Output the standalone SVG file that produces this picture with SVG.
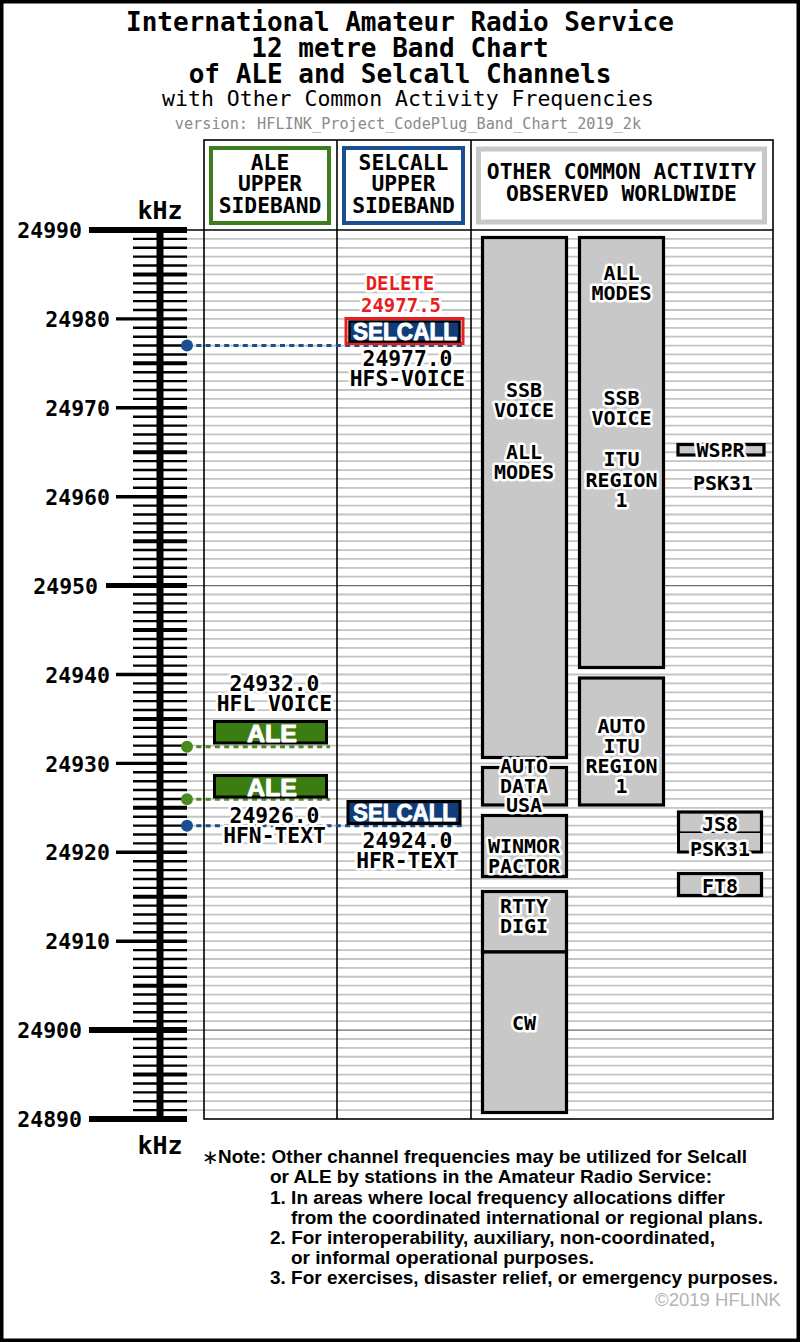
<svg xmlns="http://www.w3.org/2000/svg" width="800" height="1342" viewBox="0 0 800 1342">
<style>
.mono{font-family:"DejaVu Sans Mono","Liberation Mono",monospace;font-weight:bold}
.mid{text-anchor:middle}
.halo{stroke:#fff;stroke-width:5;stroke-linejoin:round;paint-order:stroke}
.blk{fill:#c8c8c8;stroke:#000;stroke-width:3.2}
.bt{font-size:20px}
.lab{font-size:21.3px}
.sc{font-size:21.5px;text-anchor:end}
.chip{font-family:"Liberation Sans",Arial,sans-serif;font-weight:bold;font-size:23px;fill:#fff;stroke:#fff;stroke-width:0.9;stroke-linejoin:round;text-anchor:middle}
.note{font-family:"Liberation Sans Narrow","Liberation Sans",Arial,sans-serif;font-weight:bold;font-size:18px}
.hdr{font-size:21.3px;text-anchor:middle}
</style>
<rect x="0" y="0" width="800" height="1342" fill="#fff"/>
<rect x="1.75" y="1.75" width="796.5" height="1338.5" fill="none" stroke="#000" stroke-width="3.5"/>

<g id="title">
<text class="mid" font-family="DejaVu Sans Mono,Liberation Mono,monospace"><tspan x="400" y="31" font-size="26" font-weight="bold">International Amateur Radio Service</tspan><tspan x="400" y="57" font-size="26" font-weight="bold">12 metre Band Chart</tspan><tspan x="400" y="83" font-size="26" font-weight="bold">of ALE and Selcall Channels</tspan><tspan x="408" y="106" font-size="21.5">with Other Common Activity Frequencies</tspan></text>
<text class="mid" x="408" y="129" font-size="15.2" fill="#8a8a8a" font-family="DejaVu Sans Mono,Liberation Mono,monospace">version: HFLINK_Project_CodePlug_Band_Chart_2019_2k</text>
</g>

<g id="grid">
<path fill="none" stroke="#c4c4c4" stroke-width="1.8" d="M187 238.89H773M187 247.78H773M187 256.67H773M187 265.56H773M187 274.45H773M187 283.34H773M187 292.23H773M187 301.12H773M187 310.01H773M187 318.9H773M187 327.79H773M187 336.68H773M187 345.57H773M187 354.46H773M187 363.35H773M187 372.24H773M187 381.13H773M187 390.02H773M187 398.91H773M187 407.8H773M187 416.69H773M187 425.58H773M187 434.47H773M187 443.36H773M187 452.25H773M187 461.14H773M187 470.03H773M187 478.92H773M187 487.81H773M187 496.7H773M187 505.59H773M187 514.48H773M187 523.37H773M187 532.26H773M187 541.15H773M187 550.04H773M187 558.93H773M187 567.82H773M187 576.71H773M187 594.49H773M187 603.38H773M187 612.27H773M187 621.16H773M187 630.05H773M187 638.94H773M187 647.83H773M187 656.72H773M187 665.61H773M187 674.5H773M187 683.39H773M187 692.28H773M187 701.17H773M187 710.06H773M187 718.95H773M187 727.84H773M187 736.73H773M187 745.62H773M187 754.51H773M187 763.4H773M187 772.29H773M187 781.18H773M187 790.07H773M187 798.96H773M187 807.85H773M187 816.74H773M187 825.63H773M187 834.52H773M187 843.41H773M187 852.3H773M187 861.19H773M187 870.08H773M187 878.97H773M187 887.86H773M187 896.75H773M187 905.64H773M187 914.53H773M187 923.42H773M187 932.31H773M187 941.2H773M187 950.09H773M187 958.98H773M187 967.87H773M187 976.76H773M187 985.65H773M187 994.54H773M187 1003.43H773M187 1012.32H773M187 1021.21H773M187 1038.99H773M187 1047.88H773M187 1056.77H773M187 1065.66H773M187 1074.55H773M187 1083.44H773M187 1092.33H773M187 1101.22H773M187 1110.11H773"/>
<path fill="none" stroke="#6e6e6e" stroke-width="1.2" d="M187 585.6H773M187 1030.1H773"/>
</g>

<g id="table" fill="none" stroke="#000">
<rect x="204" y="140" width="569" height="979" stroke-width="1.6"/>
<path d="M337 140V1119M471 140V1119" stroke-width="1.6"/>
<path d="M187 230H773" stroke-width="1.6"/>
</g>

<g id="scale">
<path fill="none" stroke="#000" stroke-width="7" d="M160 230V1119"/>
<path fill="none" stroke="#000" stroke-width="2.4" d="M133 238.89H187M133 247.78H187M133 256.67H187M133 265.56H187M133 283.34H187M133 292.23H187M133 301.12H187M133 310.01H187M133 327.79H187M133 336.68H187M133 345.57H187M133 354.46H187M133 372.24H187M133 381.13H187M133 390.02H187M133 398.91H187M133 416.69H187M133 425.58H187M133 434.47H187M133 443.36H187M133 461.14H187M133 470.03H187M133 478.92H187M133 487.81H187M133 505.59H187M133 514.48H187M133 523.37H187M133 532.26H187M133 550.04H187M133 558.93H187M133 567.82H187M133 576.71H187M133 594.49H187M133 603.38H187M133 612.27H187M133 621.16H187M133 638.94H187M133 647.83H187M133 656.72H187M133 665.61H187M133 683.39H187M133 692.28H187M133 701.17H187M133 710.06H187M133 727.84H187M133 736.73H187M133 745.62H187M133 754.51H187M133 772.29H187M133 781.18H187M133 790.07H187M133 798.96H187M133 816.74H187M133 825.63H187M133 834.52H187M133 843.41H187M133 861.19H187M133 870.08H187M133 878.97H187M133 887.86H187M133 905.64H187M133 914.53H187M133 923.42H187M133 932.31H187M133 950.09H187M133 958.98H187M133 967.87H187M133 976.76H187M133 994.54H187M133 1003.43H187M133 1012.32H187M133 1021.21H187M133 1038.99H187M133 1047.88H187M133 1056.77H187M133 1065.66H187M133 1083.44H187M133 1092.33H187M133 1101.22H187M133 1110.11H187"/>
<path fill="none" stroke="#000" stroke-width="4" d="M133 274.45H187M133 363.35H187M133 452.25H187M133 541.15H187M133 630.05H187M133 718.95H187M133 807.85H187M133 896.75H187M133 985.65H187M133 1074.55H187"/>
<path fill="none" stroke="#000" stroke-width="3.4" d="M116 318.9H187M116 407.8H187M116 496.7H187M116 674.5H187M116 763.4H187M116 852.3H187M116 941.2H187"/>
<path fill="none" stroke="#000" stroke-width="5" d="M106 585.6H187"/>
<path fill="none" stroke="#000" stroke-width="6" d="M89 230H187M89 1030.1H187M89 1119H187"/>
<g class="mono sc">
<text x="82" y="238">24990</text>
<text x="110" y="327">24980</text>
<text x="110" y="416">24970</text>
<text x="110" y="505">24960</text>
<text x="98" y="594">24950</text>
<text x="110" y="683">24940</text>
<text x="110" y="772">24930</text>
<text x="110" y="860">24920</text>
<text x="110" y="949">24910</text>
<text x="82" y="1038">24900</text>
<text x="82" y="1127">24890</text>
</g>
<text class="mono mid" x="160" y="219" font-size="25">kHz</text>
<text class="mono mid" x="160" y="1154" font-size="25">kHz</text>
</g>

<g id="hdr-ale">
<rect x="211" y="148" width="118" height="75" fill="#fff" stroke="#3e7d1d" stroke-width="4"/>
<text class="mono hdr"><tspan x="270" y="169.5">ALE</tspan><tspan x="270" y="191">UPPER</tspan><tspan x="270" y="212.5">SIDEBAND</tspan></text>
</g>
<g id="hdr-selcall">
<rect x="344" y="148" width="119" height="75" fill="#fff" stroke="#1b4f8f" stroke-width="4"/>
<text class="mono hdr"><tspan x="403.5" y="169.5">SELCALL</tspan><tspan x="403.5" y="191">UPPER</tspan><tspan x="403.5" y="212.5">SIDEBAND</tspan></text>
</g>
<g id="hdr-other">
<rect x="478.5" y="149" width="286" height="73" fill="#fff" stroke="#c8c8c8" stroke-width="5"/>
<text class="mono hdr"><tspan x="621.5" y="179">OTHER COMMON ACTIVITY</tspan><tspan x="621.5" y="201">OBSERVED WORLDWIDE</tspan></text>
</g>

<g id="blk-ssb-a">
<rect class="blk" x="482.5" y="237.5" width="84" height="520"/>
<text class="mono mid halo bt"><tspan x="524" y="397">SSB</tspan><tspan x="524" y="417">VOICE</tspan><tspan x="524" y="459">ALL</tspan><tspan x="524" y="479">MODES</tspan></text>
</g>
<g id="blk-autodata">
<rect class="blk" x="482.5" y="767.5" width="84" height="37.5"/>
</g>
<g id="blk-winmor">
<rect class="blk" x="482.5" y="815.5" width="84" height="61"/>
<text class="mono mid halo bt"><tspan x="524" y="853">WINMOR</tspan><tspan x="524" y="873">PACTOR</tspan></text>
</g>
<g id="blk-rtty">
<rect class="blk" x="482.5" y="891.5" width="84" height="60.5"/>
<text class="mono mid halo bt"><tspan x="524" y="913">RTTY</tspan><tspan x="524" y="933">DIGI</tspan></text>
</g>
<g id="blk-cw">
<rect class="blk" x="482.5" y="952" width="84" height="160.5"/>
<text class="mono mid halo bt" x="524" y="1030">CW</text>
</g>
<g id="blk-ssb-b">
<rect class="blk" x="579.5" y="237.5" width="84" height="430"/>
<text class="mono mid halo bt"><tspan x="621.5" y="280">ALL</tspan><tspan x="621.5" y="300">MODES</tspan><tspan x="621.5" y="405">SSB</tspan><tspan x="621.5" y="425">VOICE</tspan><tspan x="621.5" y="466">ITU</tspan><tspan x="621.5" y="487">REGION</tspan><tspan x="621.5" y="507">1</tspan></text>
</g>
<g id="blk-auto-itu">
<rect class="blk" x="579.5" y="678" width="84" height="127"/>
<text class="mono mid halo bt"><tspan x="621.5" y="733">AUTO</tspan><tspan x="621.5" y="753">ITU</tspan><tspan x="621.5" y="773">REGION</tspan><tspan x="621.5" y="793">1</tspan></text>
</g>
<g id="blk-wspr">
<rect class="blk" x="678" y="444.5" width="86" height="10.5" stroke-width="3.2"/>
<text class="mono mid halo bt" x="720.5" y="457">WSPR</text>
</g>
<g id="lbl-psk31-a">
<text class="mono mid halo bt" x="723" y="490">PSK31</text>
</g>
<g id="blk-js8">
<rect class="blk" x="678.5" y="812" width="83" height="21" stroke-width="3"/>
</g>
<g id="blk-psk31">
<path d="M678.5 833V852H761.5V833" fill="#c8c8c8" stroke="#000" stroke-width="3"/>
</g>
<g id="blk-ft8">
<rect class="blk" x="678.5" y="873.5" width="83" height="22" stroke-width="3"/>
</g>

<g id="connectors" fill="none" stroke-width="3" stroke-dasharray="5 4.3">
<path d="M187 345.6H463" stroke="#1a4f8f"/>
<path d="M187 746.7H330" stroke="#4a8a1e"/>
<path d="M187 799.3H330" stroke="#4a8a1e"/>
<path d="M187 825.7H463" stroke="#1a4f8f"/>
</g>
<g id="dots" stroke="none">
<circle cx="187" cy="345.6" r="6" fill="#1a4f8f"/>
<circle cx="187" cy="746.7" r="6" fill="#4a8a1e"/>
<circle cx="187" cy="799.3" r="6" fill="#4a8a1e"/>
<circle cx="187" cy="825.7" r="6" fill="#1a4f8f"/>
</g>

<g id="lbl-autodata">
<text class="mono mid halo bt"><tspan x="524" y="773">AUTO</tspan><tspan x="524" y="793">DATA</tspan><tspan x="524" y="811.5">USA</tspan></text>
</g>
<g id="lbl-js8-psk-ft8" class="mono mid halo bt">
<text x="720" y="830.5">JS8</text>
<text x="720" y="855.5">PSK31</text>
<text x="720" y="893">FT8</text>
</g>

<g id="ch-selcall-24977">
<rect x="346" y="318.5" width="117" height="25" fill="none" stroke="#e81d1d" stroke-width="3"/>
<rect x="349.5" y="321.5" width="110" height="20" fill="#0f3d7a" stroke="#000" stroke-width="2.5"/>
<text class="chip" x="405" y="339.5" textLength="104" lengthAdjust="spacingAndGlyphs">SELCALL</text>
<text class="mono mid halo" font-size="19" fill="#e81d1d"><tspan x="400" y="289.5">DELETE</tspan><tspan x="401" y="312">24977.5</tspan></text>
<text class="mono mid halo lab"><tspan x="407.5" y="366">24977.0</tspan><tspan x="407.5" y="386">HFS-VOICE</tspan></text>
</g>

<g id="ch-ale-24932">
<rect x="214.5" y="721.5" width="112" height="21.5" fill="#3c7d11" stroke="#000" stroke-width="3"/>
<text class="chip" x="272" y="741.5" textLength="50" lengthAdjust="spacingAndGlyphs">ALE</text>
<text class="mono mid halo lab"><tspan x="274.5" y="691">24932.0</tspan><tspan x="274.5" y="711">HFL VOICE</tspan></text>
</g>

<g id="ch-ale-24926">
<rect x="214.5" y="775.5" width="112" height="21.5" fill="#3c7d11" stroke="#000" stroke-width="3"/>
<text class="chip" x="272" y="795.5" textLength="50" lengthAdjust="spacingAndGlyphs">ALE</text>
<text class="mono mid halo lab"><tspan x="274.5" y="823">24926.0</tspan><tspan x="274.5" y="843">HFN-TEXT</tspan></text>
</g>

<g id="ch-selcall-24924">
<rect x="348" y="801.5" width="112" height="22" fill="#0f3d7a" stroke="#000" stroke-width="3"/>
<text class="chip" x="404.5" y="821" textLength="103" lengthAdjust="spacingAndGlyphs">SELCALL</text>
<text class="mono mid halo lab"><tspan x="407.5" y="848">24924.0</tspan><tspan x="407.5" y="868">HFR-TEXT</tspan></text>
</g>

<g id="note">
<text x="202" y="1164" font-family="DejaVu Sans,sans-serif" font-size="20">∗</text>
<text class="note" x="218" y="1162.5" textLength="529" lengthAdjust="spacingAndGlyphs">Note: Other channel frequencies may be utilized for Selcall</text>
<text class="note" x="270" y="1182.5" textLength="442" lengthAdjust="spacingAndGlyphs">or ALE by stations in the Amateur Radio Service:</text>
<text class="note" x="270" y="1203.5" textLength="455" lengthAdjust="spacingAndGlyphs">1. In areas where local frequency allocations differ</text>
<text class="note" x="291" y="1223.5" textLength="472" lengthAdjust="spacingAndGlyphs">from the coordinated international or regional plans.</text>
<text class="note" x="270" y="1243.5" textLength="445" lengthAdjust="spacingAndGlyphs">2. For interoperability, auxiliary, non-coordinated,</text>
<text class="note" x="291" y="1263.5" textLength="303" lengthAdjust="spacingAndGlyphs">or informal operational purposes.</text>
<text class="note" x="270" y="1283.5" textLength="508" lengthAdjust="spacingAndGlyphs">3. For exercises, disaster relief, or emergency purposes.</text>
<text x="781" y="1306" text-anchor="end" font-family="Liberation Sans Narrow,Liberation Sans,Arial,sans-serif" font-size="18" fill="#b4b4b4" textLength="126" lengthAdjust="spacingAndGlyphs">©2019 HFLINK</text>
</g>
</svg>
